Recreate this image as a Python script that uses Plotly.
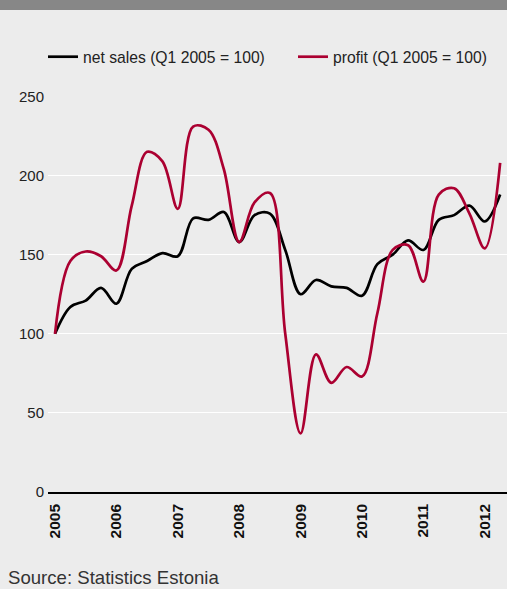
import plotly.graph_objects as go

# Quarterly data, Q1 2005 .. Q2 2012
quarters = [2005 + i / 4 for i in range(30)]
net_sales = [100, 117, 121, 129, 119, 141, 146, 151, 149, 173,
             172, 177, 158, 175, 176, 153, 125, 134, 130, 129,
             124, 144, 150, 159, 153, 172, 175, 181, 171, 188]
profit = [100, 146, 152, 149, 140, 181, 215, 209, 179, 231,
          229, 204, 158, 183, 189, 100, 37, 87, 69, 79,
          73, 113, 153, 156, 133, 188, 192, 176, 154, 208]
year_ticks = list(range(2005, 2013))
y_ticks = [0, 50, 100, 150, 200, 250]

BG = "#ececec"
RED = "#ab0031"
FONT = "Liberation Sans, Arial, Helvetica, sans-serif"

fig = go.Figure()
fig.add_trace(go.Scatter(x=quarters, y=net_sales, mode="lines",
                         name="net sales (Q1 2005 = 100)", legend="legend",
                         line=dict(color="#000000", width=2.7, shape="spline")))
fig.add_trace(go.Scatter(x=quarters, y=profit, mode="lines",
                         name="profit (Q1 2005 = 100)", legend="legend2",
                         line=dict(color=RED, width=2.7, shape="spline")))

leg_common = dict(orientation="h", xref="container", yref="container",
                  y=1 - 57 / 589, xanchor="left", yanchor="middle",
                  font=dict(size=15.7, color="#222222"),
                  bgcolor="rgba(0,0,0,0)")

fig.update_layout(
    width=507, height=589,
    paper_bgcolor=BG, plot_bgcolor=BG,
    margin=dict(l=48, r=0, t=96, b=97),
    font=dict(family=FONT, color="#222222"),
    showlegend=True,
    legend=dict(x=43 / 507, **leg_common),
    legend2=dict(x=293 / 507, **leg_common),
    shapes=[dict(type="rect", xref="paper", yref="paper",
                 x0=-0.2, x1=1.1, y0=1 + 86 / 396, y1=1.5,
                 fillcolor="#878787", line=dict(width=0), layer="above")],
    annotations=[dict(text="Source: Statistics Estonia", xref="paper", yref="paper",
                      x=-42 / 459, y=-85 / 396, xanchor="left", yanchor="middle",
                      showarrow=False, font=dict(size=18.6, color="#333333"))],
)

fig.update_xaxes(range=[2005 - 7 / 61.4, 2005 + (507 - 55) / 61.4],
                 tickmode="array", tickvals=year_ticks,
                 ticktext=["<b>%d</b>" % y for y in year_ticks],
                 tickangle=-90, tickfont=dict(size=15.5, color="#111111"),
                 showgrid=False, zeroline=False,
                 showline=True, linecolor="#000000", linewidth=1.5,
                 ticks="", ticklabelstandoff=4, fixedrange=True)
fig.update_yaxes(range=[0, 250.3], tickmode="array", tickvals=y_ticks,
                 tickfont=dict(size=15, color="#222222"),
                 showgrid=True, gridcolor="#ffffff", gridwidth=1.2,
                 zeroline=False, showline=False, ticks="",
                 ticklabelstandoff=3, fixedrange=True)

fig.write_html("out.html", config={"displayModeBar": False},
               post_script="document.body.style.margin='0';"
                           "document.body.style.overflow='hidden';")
